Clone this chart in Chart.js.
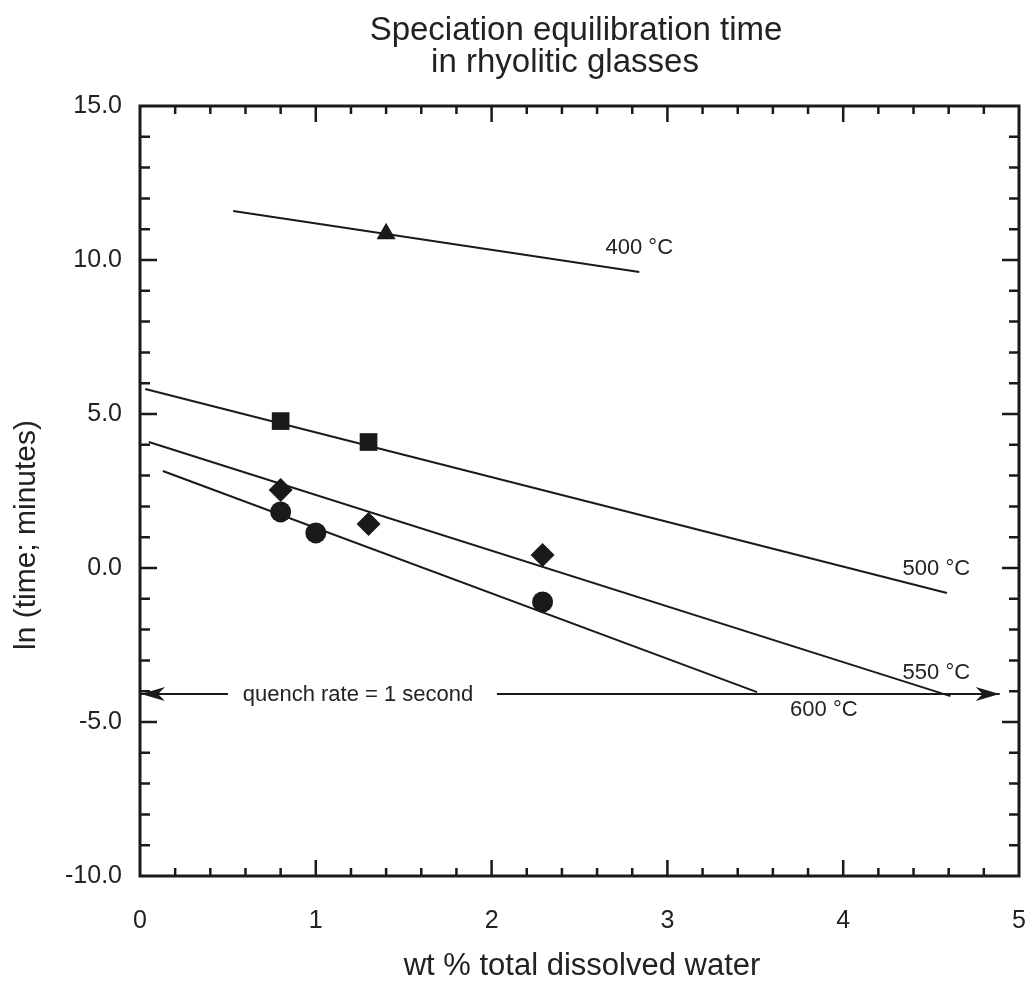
<!DOCTYPE html>
<html>
<head>
<meta charset="utf-8">
<title>Speciation equilibration time</title>
<script src="https://cdn.jsdelivr.net/npm/chart.js@4.4.0/dist/chart.umd.min.js"></script>
<style>
    html, body { margin: 0; padding: 0; background: #fff; overflow: hidden; }
    #chart { display: block; }
</style>
</head>
<body>
<canvas id="chart" width="1036" height="992"></canvas>
<script>
(function () {
    'use strict';

    // axis ranges / labels
    var xTicks = [0, 1, 2, 3, 4, 5];
    var yTicks = [-10, -5, 0, 5, 10, 15];

    // measured equilibration times, ln(min) vs wt% water
    var pts400 = [{ x: 1.40, y: 10.85 }];
    var pts500 = [{ x: 0.80, y: 4.77 }, { x: 1.30, y: 4.09 }];
    var pts550 = [{ x: 0.80, y: 2.53 }, { x: 1.30, y: 1.43 }, { x: 2.29, y: 0.42 }];
    var pts600 = [{ x: 0.80, y: 1.82 }, { x: 1.00, y: 1.14 }, { x: 2.29, y: -1.10 }];

    // fitted isotherms (end points)
    var fit400 = [{ x: 0.53, y: 11.59 }, { x: 2.84, y: 9.61 }];
    var fit500 = [{ x: 0.03, y: 5.81 }, { x: 4.59, y: -0.81 }];
    var fit550 = [{ x: 0.05, y: 4.09 }, { x: 4.61, y: -4.16 }];
    var fit600 = [{ x: 0.13, y: 3.15 }, { x: 3.51, y: -4.03 }];

    // quench rate of 1 s = ln(1/60) min
    var quenchY = Math.log(1 / 60);
    var quenchLeft = [{ x: 0, y: quenchY }, { x: 0.50, y: quenchY }];
    var quenchRight = [{ x: 2.03, y: quenchY }, { x: 4.89, y: quenchY }];
    var quenchText = 'quench rate = 1 second';
    var quenchTextX = 1.24;

    var isoLabels = ['400 °C', '500 °C', '550 °C', '600 °C'];
    var isoLabelX = [2.84, 4.53, 4.53, 3.89];
    var isoLabelY = [10.39, -0.03, -3.41, -4.61];

    var ink = '#1a1a1a';
    var fontFamily = '"Liberation Sans", Arial, Helvetica, sans-serif';

    function lineSet(data) {
        return {
            data: data,
            showLine: true,
            borderColor: ink,
            borderWidth: 2,
            pointRadius: 0,
            fill: false,
            order: 2
        };
    }

    function markerSet(data, style, radius) {
        return {
            data: data,
            showLine: false,
            pointStyle: style,
            pointRadius: radius,
            pointHoverRadius: radius,
            backgroundColor: ink,
            borderColor: ink,
            borderWidth: 0,
            order: 1
        };
    }

    // frame, inward ticks, arrowheads and annotations
    var decorPlugin = {
        id: 'decor',
        afterDatasetsDraw: function (chart) {
            var ctx = chart.ctx;
            var a = chart.chartArea;
            var xs = chart.scales.x;
            var ys = chart.scales.y;
            var i, p, len;

            ctx.save();
            ctx.strokeStyle = ink;
            ctx.fillStyle = ink;

            ctx.lineWidth = 3;
            ctx.strokeRect(a.left, a.top, a.right - a.left, a.bottom - a.top);

            ctx.lineWidth = 2.5;
            ctx.beginPath();
            for (i = 1; i < 25; i++) {
                p = xs.getPixelForValue(i / 5);
                len = i % 5 === 0 ? 16 : 8;
                ctx.moveTo(p, a.bottom);
                ctx.lineTo(p, a.bottom - len);
                ctx.moveTo(p, a.top);
                ctx.lineTo(p, a.top + len);
            }
            for (i = -9; i < 15; i++) {
                p = ys.getPixelForValue(i);
                len = i % 5 === 0 ? 17 : 10;
                ctx.moveTo(a.left, p);
                ctx.lineTo(a.left + len, p);
                ctx.moveTo(a.right, p);
                ctx.lineTo(a.right - len, p);
            }
            ctx.stroke();

            // arrowheads on the quench line
            var qy = ys.getPixelForValue(quenchY);
            function arrow(tipX, dir) {
                ctx.beginPath();
                ctx.moveTo(tipX, qy);
                ctx.lineTo(tipX - dir * 24, qy - 7);
                ctx.lineTo(tipX - dir * 17, qy);
                ctx.lineTo(tipX - dir * 24, qy + 7);
                ctx.closePath();
                ctx.fill();
            }
            arrow(xs.getPixelForValue(quenchLeft[0].x) + 1, -1);
            arrow(xs.getPixelForValue(quenchRight[1].x), 1);

            ctx.textAlign = 'center';
            ctx.textBaseline = 'middle';
            ctx.font = '22px ' + fontFamily;
            ctx.fillStyle = '#222';
            ctx.fillText(quenchText, xs.getPixelForValue(quenchTextX), qy + 1);
            for (i = 0; i < isoLabels.length; i++) {
                ctx.fillText(isoLabels[i], xs.getPixelForValue(isoLabelX[i]), ys.getPixelForValue(isoLabelY[i]));
            }

            // titles
            ctx.font = '33px ' + fontFamily;
            ctx.fillText('Speciation equilibration time', 576, 31);
            ctx.fillText('in rhyolitic glasses', 565, 63);

            ctx.font = '31px ' + fontFamily;
            ctx.fillText('wt % total dissolved water', 582, 966);

            ctx.font = '30px ' + fontFamily;
            ctx.translate(27, 535);
            ctx.rotate(-Math.PI / 2);
            ctx.fillText('ln (time; minutes)', 0, 0);
            ctx.restore();
        }
    };

    new Chart(document.getElementById('chart'), {
        type: 'scatter',
        data: {
            datasets: [
                lineSet(fit400),
                lineSet(fit500),
                lineSet(fit550),
                lineSet(fit600),
                lineSet(quenchLeft),
                lineSet(quenchRight),
                markerSet(pts400, 'triangle', 11),
                markerSet(pts500, 'rect', 12.5),
                markerSet(pts550, 'rectRot', 12),
                markerSet(pts600, 'circle', 10.5)
            ]
        },
        options: {
            responsive: false,
            animation: false,
            devicePixelRatio: 1,
            clip: false,
            layout: {
                padding: { top: 106, right: 17, bottom: 0, left: 0 }
            },
            plugins: {
                legend: { display: false },
                tooltip: { enabled: false },
                title: { display: false }
            },
            scales: {
                x: {
                    type: 'linear',
                    min: xTicks[0],
                    max: xTicks[xTicks.length - 1],
                    afterBuildTicks: function (scale) {
                        scale.ticks = xTicks.map(function (v) { return { value: v }; });
                    },
                    afterFit: function (scale) {
                        // fixed band below the frame; no extra side padding from end labels
                        scale.height = 116;
                        scale.paddingLeft = 0;
                        scale.paddingRight = 0;
                    },
                    grid: { display: false, drawTicks: false },
                    border: { display: false },
                    ticks: {
                        color: '#222',
                        padding: 30,
                        maxRotation: 0,
                        font: { family: fontFamily, size: 25 },
                        callback: function (v) { return String(v); }
                    }
                },
                y: {
                    type: 'linear',
                    min: yTicks[0],
                    max: yTicks[yTicks.length - 1],
                    afterBuildTicks: function (scale) {
                        scale.ticks = yTicks.map(function (v) { return { value: v }; });
                    },
                    afterFit: function (scale) {
                        scale.width = 140;
                        scale.paddingTop = 0;
                        scale.paddingBottom = 0;
                    },
                    grid: { display: false, drawTicks: false },
                    border: { display: false },
                    ticks: {
                        color: '#222',
                        padding: 18,
                        font: { family: fontFamily, size: 25 },
                        callback: function (v) { return Number(v).toFixed(1); }
                    }
                }
            }
        },
        plugins: [decorPlugin]
    });
})();
</script>
</body>
</html>
